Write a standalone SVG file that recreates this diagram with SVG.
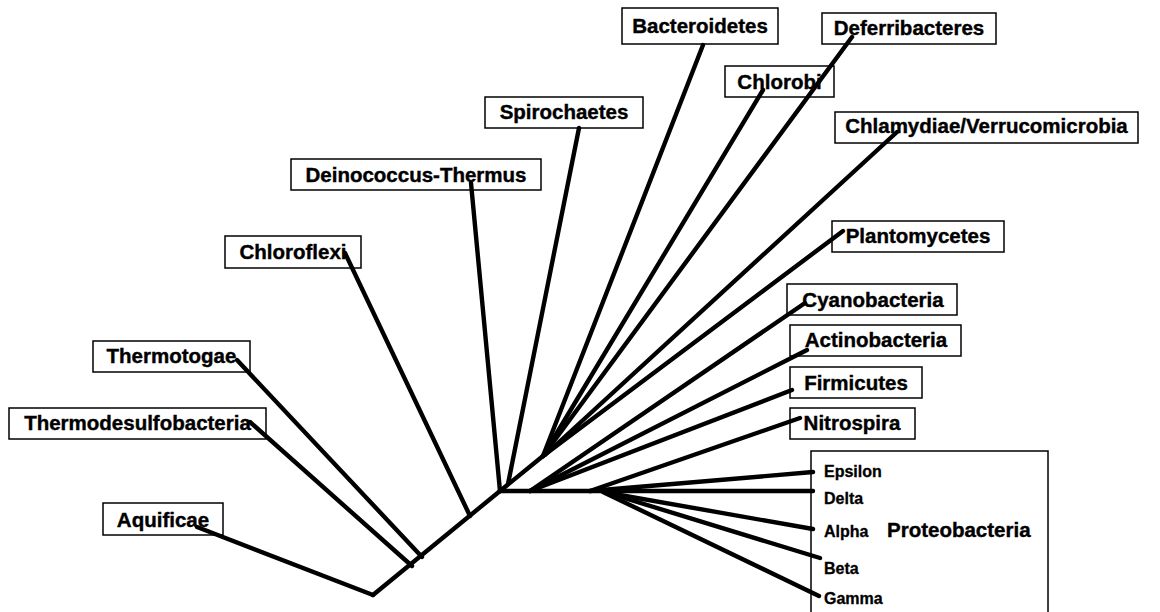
<svg xmlns="http://www.w3.org/2000/svg" width="1160" height="612" viewBox="0 0 1160 612">
<style>
.box{fill:#fff;stroke:#000;stroke-width:1.5}
.lb{font-family:"Liberation Sans",Arial,sans-serif;font-weight:bold;font-size:20.5px;fill:#000;stroke:#000;stroke-width:0.4;text-anchor:middle}
.sm{font-family:"Liberation Sans",Arial,sans-serif;font-weight:bold;font-size:16px;fill:#000;stroke:#000;stroke-width:0.3}
.br{stroke:#000;stroke-width:4.4;stroke-linecap:round;fill:none}
</style>
<rect width="1160" height="612" fill="#fff"/>
<g id="aquificae"><rect class="box" x="103" y="503" width="120" height="32"/><text class="lb" x="163" y="527">Aquificae</text></g>
<g id="thermodesulfobacteria"><rect class="box" x="9" y="408" width="257" height="31"/><text class="lb" x="137.5" y="430">Thermodesulfobacteria</text></g>
<g id="thermotogae"><rect class="box" x="93" y="341" width="157" height="31"/><text class="lb" x="171.5" y="363">Thermotogae</text></g>
<g id="chloroflexi"><rect class="box" x="225" y="236" width="136" height="32"/><text class="lb" x="293" y="259">Chloroflexi</text></g>
<g id="deinococcus"><rect class="box" x="291" y="159" width="250" height="31"/><text class="lb" x="416" y="182">Deinococcus-Thermus</text></g>
<g id="spirochaetes"><rect class="box" x="485" y="97" width="158" height="31"/><text class="lb" x="564" y="119">Spirochaetes</text></g>
<g id="bacteroidetes"><rect class="box" x="622" y="8" width="156" height="36"/><text class="lb" x="700" y="33">Bacteroidetes</text></g>
<g id="chlorobi"><rect class="box" x="725" y="66" width="109" height="31"/><text class="lb" x="779.5" y="89">Chlorobi</text></g>
<g id="deferribacteres"><rect class="box" x="822" y="13" width="174" height="31"/><text class="lb" x="909" y="35">Deferribacteres</text></g>
<g id="chlamydiae"><rect class="box" x="835" y="112" width="303" height="31"/><text class="lb" x="986.5" y="133">Chlamydiae/Verrucomicrobia</text></g>
<g id="plantomycetes"><rect class="box" x="832" y="221" width="172" height="31"/><text class="lb" x="918" y="243">Plantomycetes</text></g>
<g id="cyanobacteria"><rect class="box" x="787" y="284" width="170" height="31"/><text class="lb" x="873" y="307">Cyanobacteria</text></g>
<g id="actinobacteria"><rect class="box" x="790" y="325" width="171" height="31"/><text class="lb" x="876" y="347">Actinobacteria</text></g>
<g id="firmicutes"><rect class="box" x="790" y="367" width="132" height="31"/><text class="lb" x="856" y="390">Firmicutes</text></g>
<g id="nitrospira"><rect class="box" x="790" y="408" width="125" height="31"/><text class="lb" x="852" y="430">Nitrospira</text></g>
<g id="proteobacteria"><rect class="box" x="811" y="451" width="237" height="170"/>
<text class="sm" x="824" y="477">Epsilon</text>
<text class="sm" x="824" y="504">Delta</text>
<text class="sm" x="824" y="537">Alpha</text>
<text class="sm" x="824" y="574">Beta</text>
<text class="sm" x="824" y="604">Gamma</text>
<text class="lb" x="887" y="537" style="text-anchor:start">Proteobacteria</text></g>
<g id="connectors" class="br">
<line class="br" x1="373" y1="595" x2="197" y2="527"/>
<line class="br" x1="373" y1="595" x2="500" y2="491"/>
<line class="br" x1="412" y1="566" x2="250" y2="422"/>
<line class="br" x1="422" y1="557" x2="237" y2="360"/>
<line class="br" x1="470" y1="516" x2="345" y2="253"/>
<line class="br" x1="500" y1="491" x2="471" y2="183"/>
<line class="br" x1="500" y1="491" x2="543" y2="456"/>
<line class="br" x1="508" y1="484" x2="579" y2="128"/>
<line class="br" x1="543" y1="456" x2="703" y2="45"/>
<line class="br" x1="543" y1="456" x2="763" y2="90"/>
<line class="br" x1="543" y1="456" x2="852" y2="37"/>
<line class="br" x1="545" y1="455" x2="897" y2="132"/>
<line class="br" x1="543" y1="456" x2="843" y2="231"/>
<line class="br" x1="530" y1="491" x2="805" y2="303"/>
<line class="br" x1="530" y1="491" x2="807" y2="350"/>
<line class="br" x1="530" y1="491" x2="792" y2="390"/>
<line class="br" x1="590" y1="491" x2="800" y2="418"/>
<line class="br" x1="500" y1="491" x2="813" y2="491"/>
<line class="br" x1="590" y1="491" x2="813" y2="472"/>
<line class="br" x1="603" y1="492" x2="813" y2="529"/>
<line class="br" x1="608" y1="493" x2="820" y2="558"/>
<line class="br" x1="605" y1="493" x2="819" y2="596"/>
</g>
</svg>
